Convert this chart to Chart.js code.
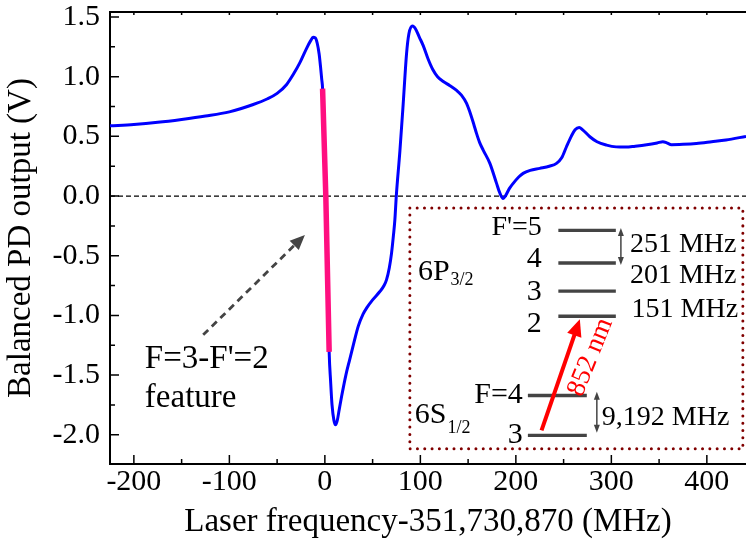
<!DOCTYPE html>
<html><head><meta charset="utf-8">
<script src="https://cdn.jsdelivr.net/npm/chart.js@4.4.1/dist/chart.umd.min.js"></script>
<style>html,body{margin:0;padding:0;background:#fff}canvas{display:block}
#probe{position:absolute;left:-9999px;top:0;font-family:"Liberation Serif","DejaVu Serif",serif;font-size:30px}</style>
</head><body>
<div id="probe">Probe 0123</div>
<canvas id="c" width="746" height="557"></canvas>
<script>
// ---- data ----
const freqMHz = [-225,-200,-175,-150,-125,-100,-75,-60,-50,-40,-33,-26,-19,-15,-12.3,-10,-8,-6,-4.5,-3.3,-2.4,-0.7,1.0,2.6,4.5,6,7.5,9.5,11.2,13,15,17.5,22,26,31,35,40,44,50,57.6,62,64.6,67.5,69.8,71.8,73.3,74.8,78.5,82,85.5,88,91.8,95,99,103,108,113,118,124,131,138,143,148.4,152,156,158.8,162,165.8,172.8,179.8,183,186.7,189,193,197.2,203,207.6,215,225,235,242.6,248,253,258,262,266.3,270,277.5,285,295,305,315,325,337,348,354,358,363,375,389,405,420,441];
const pdOutputV = [0.588,0.600,0.618,0.642,0.670,0.705,0.767,0.815,0.860,0.935,1.02,1.12,1.24,1.30,1.33,1.325,1.28,1.19,1.08,0.98,0.90,0.45,0.0,-0.55,-1.306,-1.55,-1.75,-1.88,-1.917,-1.88,-1.79,-1.68,-1.50,-1.37,-1.21,-1.09,-0.99,-0.935,-0.87,-0.80,-0.75,-0.70,-0.60,-0.48,-0.33,-0.20,0.0,0.37,0.77,1.19,1.36,1.425,1.40,1.33,1.26,1.15,1.06,1.00,0.96,0.925,0.885,0.845,0.776,0.70,0.60,0.525,0.45,0.385,0.274,0.106,0.03,-0.02,0.0,0.06,0.106,0.16,0.19,0.215,0.232,0.25,0.274,0.32,0.413,0.50,0.555,0.575,0.555,0.497,0.455,0.427,0.412,0.41,0.418,0.43,0.445,0.455,0.445,0.43,0.433,0.44,0.455,0.47,0.50];
const featureFreqMHz = [-2.4, 1.0, 4.5];
const featureV = [0.90, 0.0, -1.306];
const xTickValues = [-200,-100,0,100,200,300,400];
const xMinorTicks = [-150,-50,50,150,250,350];
const xTopTicks = [-200,-150,-100,-50,0,50,100,150,200,250,300,350,400];
const yTickValues = [-2.0,-1.5,-1.0,-0.5,0.0,0.5,1.0,1.5];
const yMinorTicks = [-1.75,-1.25,-0.75,-0.25,0.25,0.75,1.25];
const xRange = [-225, 441];
const yRange = [-2.245, 1.542];

const SERIF = '"Liberation Serif", "Times New Roman", Times, "DejaVu Serif", "Noto Serif", serif';
const toPts = (xs, ys) => xs.map((v, i) => ({x: v, y: ys[i]}));

const decor = {
  id: 'decor',
  afterDatasetsDraw(chart) {
    const {ctx, chartArea: a, scales: {x, y}} = chart;
    const X = v => x.getPixelForValue(v), Y = v => y.getPixelForValue(v);
    ctx.save();
    ctx.strokeStyle = '#000'; ctx.lineWidth = 1.5; ctx.setLineDash([]);
    ctx.beginPath();
    xTickValues.forEach(v => { const p = X(v); ctx.moveTo(p, a.bottom); ctx.lineTo(p, a.bottom - 9); });
    xMinorTicks.forEach(v => { const p = X(v); ctx.moveTo(p, a.bottom); ctx.lineTo(p, a.bottom - 5); });
    xTopTicks.forEach(v => { const p = X(v); ctx.moveTo(p, a.top); ctx.lineTo(p, a.top + 3); });
    yTickValues.forEach(v => { const p = Y(v); ctx.moveTo(a.left, p); ctx.lineTo(a.left + 9, p); });
    yMinorTicks.forEach(v => { const p = Y(v); ctx.moveTo(a.left, p); ctx.lineTo(a.left + 5, p); });
    ctx.stroke();
    ctx.lineWidth = 2;
    ctx.beginPath(); ctx.moveTo(a.left - 1, a.top); ctx.lineTo(a.right, a.top); ctx.stroke();

    const txt = (s, px, py, size, align, color) => {
      ctx.font = size + 'px ' + SERIF; ctx.fillStyle = color || '#000';
      ctx.textAlign = align || 'left'; ctx.textBaseline = 'alphabetic';
      ctx.fillText(s, px, py);
      return ctx.measureText(s).width;
    };
    const head = (x2, y2, ang, hl, hw) => {
      const bx = x2 - hl * Math.cos(ang), by = y2 - hl * Math.sin(ang);
      ctx.beginPath(); ctx.moveTo(x2, y2);
      ctx.lineTo(bx + hw / 2 * Math.sin(ang), by - hw / 2 * Math.cos(ang));
      ctx.lineTo(bx - hw / 2 * Math.sin(ang), by + hw / 2 * Math.cos(ang));
      ctx.closePath(); ctx.fill();
    };
    const arrow = (x1, y1, x2, y2, hl, hw, color, lw, dash) => {
      const ang = Math.atan2(y2 - y1, x2 - x1);
      ctx.strokeStyle = color; ctx.fillStyle = color; ctx.lineWidth = lw;
      const bx = x2 - hl * 0.8 * Math.cos(ang), by = y2 - hl * 0.8 * Math.sin(ang);
      ctx.setLineDash(dash || []);
      ctx.beginPath(); ctx.moveTo(x1, y1); ctx.lineTo(bx, by); ctx.stroke();
      ctx.setLineDash([]);
      head(x2, y2, ang, hl, hw);
    };
    const dbl = (px, y1, y2) => {
      ctx.strokeStyle = '#444'; ctx.fillStyle = '#444'; ctx.lineWidth = 1.5; ctx.setLineDash([]);
      ctx.beginPath(); ctx.moveTo(px, y1 + 5); ctx.lineTo(px, y2 - 5); ctx.stroke();
      head(px, y1, -Math.PI / 2, 8, 6);
      head(px, y2, Math.PI / 2, 8, 6);
    };

    arrow(X(-127.4), Y(-1.163), X(-20.9), Y(-0.326), 15, 13, '#444', 2.8, [7, 5]);
    txt("F=3-F'=2", X(-188.5), Y(-1.439), 33, 'left');
    txt('feature', X(-188.5), Y(-1.766), 33, 'left');

    ctx.strokeStyle = '#800000'; ctx.lineWidth = 3; ctx.lineCap = 'round';
    ctx.setLineDash([0.01, 7.3]);
    ctx.strokeRect(X(89), Y(-0.10), X(437.7) - X(89), Y(-2.117) - Y(-0.10));
    ctx.setLineDash([]); ctx.lineCap = 'butt';

    ctx.strokeStyle = '#444'; ctx.lineWidth = 3.3;
    ctx.beginPath();
    [-0.287, -0.561, -0.797, -1.007].forEach(v => { ctx.moveTo(X(244.5), Y(v)); ctx.lineTo(X(304.7), Y(v)); });
    [-1.671, -2.006].forEach(v => { ctx.moveTo(X(212.6), Y(v)); ctx.lineTo(X(274.3), Y(v)); });
    ctx.stroke();

    txt("F'=5", X(227.2), Y(-0.326), 28, 'right');
    txt('4', X(227.2), Y(-0.594), 30, 'right');
    txt('3', X(227.2), Y(-0.870), 30, 'right');
    txt('2', X(227.2), Y(-1.138), 30, 'right');
    let w = txt('6P', X(97.4), Y(-0.703), 30, 'left');
    txt('3/2', X(97.4) + w + 1, Y(-0.745), 18, 'left');
    txt('251 MHz', X(319.4), Y(-0.469), 28, 'left');
    txt('201 MHz', X(319.4), Y(-0.728), 28, 'left');
    txt('151 MHz', X(321.2), Y(-1.010), 28, 'left');
    dbl(X(310), Y(-0.268), Y(-0.577));

    txt('F=4', X(207.3), Y(-1.732), 30, 'right');
    txt('3', X(207.3), Y(-2.067), 30, 'right');
    w = txt('6S', X(94.2), Y(-1.900), 30, 'left');
    txt('1/2', X(94.2) + w + 1, Y(-1.983), 18, 'left');
    dbl(X(284.8), Y(-1.640), Y(-1.983));
    txt('9,192 MHz', X(290), Y(-1.916), 28, 'left');

    arrow(X(226.9), Y(-1.964), X(267), Y(-1.032), 17, 15, '#ff0000', 4);
    ctx.save();
    ctx.translate(X(278.2), Y(-1.350));
    ctx.rotate(-68 * Math.PI / 180);
    ctx.font = '27px ' + SERIF; ctx.fillStyle = '#ff0000';
    ctx.textAlign = 'center'; ctx.textBaseline = 'middle';
    ctx.fillText('852 nm', 0, 0);
    ctx.restore();

    ctx.restore();
  }
};

function draw() {
  new Chart(document.getElementById('c'), {
    type: 'scatter',
    data: {
      datasets: [
        { data: toPts(featureFreqMHz, featureV), showLine: true, borderColor: '#ff0f80', borderWidth: 5.5,
          pointRadius: 0, tension: 0, borderCapStyle: 'butt' },
        { data: toPts(freqMHz, pdOutputV), showLine: true, borderColor: '#0000ff', borderWidth: 3,
          pointRadius: 0, cubicInterpolationMode: 'monotone' },
        { data: toPts(xRange, [0, 0]), showLine: true, borderColor: '#000', borderWidth: 1.3,
          borderDash: [5, 3], pointRadius: 0 }
      ]
    },
    options: {
      responsive: false, animation: false, devicePixelRatio: 1,
      layout: { padding: { top: 12, right: 0, left: 0, bottom: 0 } },
      plugins: { legend: { display: false }, tooltip: { enabled: false } },
      scales: {
        x: {
          type: 'linear', min: xRange[0], max: xRange[1],
          afterBuildTicks: s => { s.ticks = xTickValues.map(v => ({value: v})); },
          afterFit: s => { s.height = 93; s.paddingLeft = 0; s.paddingRight = 0; },
          grid: { display: false, drawTicks: false },
          border: { display: true, color: '#000', width: 2 },
          ticks: { color: '#000', padding: 3, maxRotation: 0, autoSkip: false,
                   font: { family: SERIF, size: 30, lineHeight: 1 }, callback: v => String(v) },
          title: { display: true, text: 'Laser frequency-351,730,870 (MHz)', color: '#000',
                   font: { family: SERIF, size: 33, lineHeight: 1 }, padding: { top: 0, bottom: 18 } }
        },
        y: {
          type: 'linear', min: yRange[0], max: yRange[1],
          afterBuildTicks: s => { s.ticks = yTickValues.map(v => ({value: v})); },
          afterFit: s => { s.width = 110; s.paddingTop = 0; s.paddingBottom = 0; },
          grid: { display: false, drawTicks: false },
          border: { display: true, color: '#000', width: 2 },
          ticks: { color: '#000', padding: 10,
                   font: { family: SERIF, size: 30, lineHeight: 1 }, callback: v => Number(v).toFixed(1) },
          title: { display: true, text: 'Balanced PD output (V)', color: '#000',
                   font: { family: SERIF, size: 33, lineHeight: 1 }, padding: { top: 5, bottom: 0 } }
        }
      }
    },
    plugins: [decor]
  });
}
if (document.fonts && document.fonts.load) {
  Promise.all([document.fonts.load('30px "Liberation Serif"'), document.fonts.load('30px "DejaVu Serif"')])
    .then(draw, draw);
} else { draw(); }
</script>
</body></html>
